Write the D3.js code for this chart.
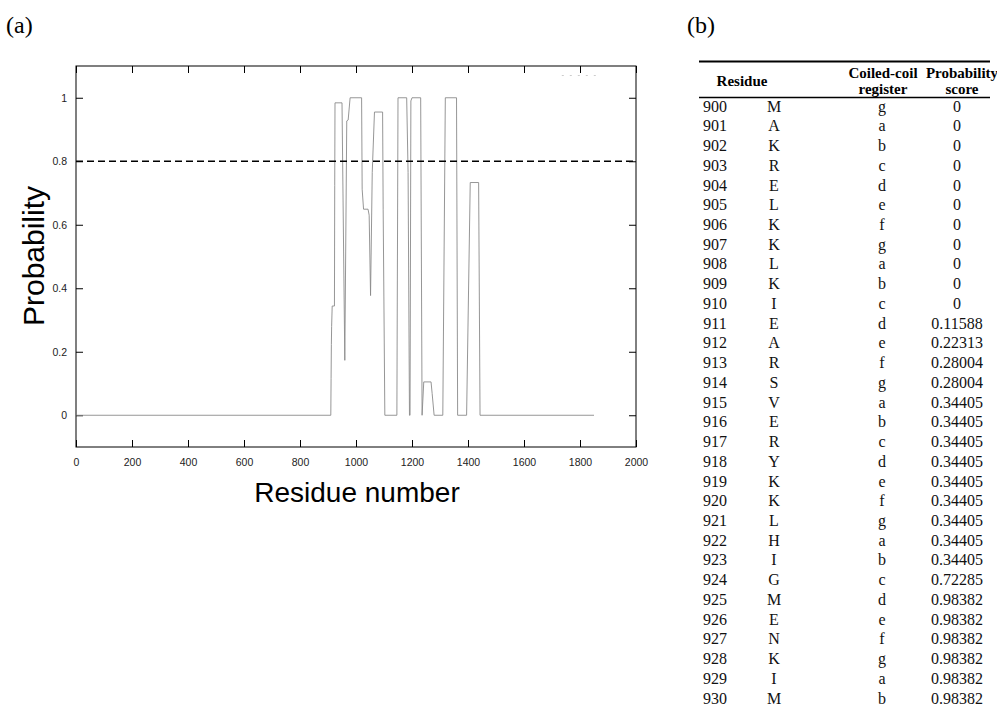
<!DOCTYPE html>
<meta charset="utf-8">
<script src="https://cdn.jsdelivr.net/npm/d3@7"></script>
<style>
body { margin: 0; background: #fff; }
.tick text { font: 10.5px "Liberation Sans", Arial, sans-serif; fill: #222; }
.tick line { stroke: #000; }
.axis-title { font-family: "Liberation Sans", Arial, sans-serif; fill: #000; }
.panel { font-family: "Liberation Serif", "Times New Roman", serif; font-size: 24px; }
.cell { font-family: "Liberation Serif", "Times New Roman", serif; font-size: 16px; fill: #111; }
.head { font-family: "Liberation Serif", "Times New Roman", serif; font-size: 15px; font-weight: bold; }
</style>
<body>
<svg id="fig" width="997" height="707"></svg>
<script>
// ---- panel (a): coiled-coil probability trace ----
var residues = [1, 910, 911, 912, 913, 915, 923, 924, 925, 950, 960, 967, 972, 979, 1020, 1022,
  1027, 1043, 1047, 1052, 1058, 1066, 1095, 1097, 1103, 1146, 1150, 1181, 1186, 1191, 1193,
  1196, 1200, 1231, 1236, 1242, 1268, 1272, 1279, 1310, 1319, 1359, 1363, 1395, 1408, 1438,
  1443, 1850];
var probs = [0, 0, 0.116, 0.223, 0.28, 0.344, 0.344, 0.723, 0.984, 0.984, 0.173, 0.927, 0.93, 1.0,
  1.0, 0.712, 0.649, 0.649, 0.63, 0.377, 0.765, 0.955, 0.955, 0.649, 0, 0, 1.0, 1.0, 0.765, 0,
  0, 0.99, 1.0, 1.0, 0, 0.105, 0.105, 0.068, 0, 0, 1.0, 1.0, 0, 0, 0.733, 0.733, 0, 0];
var threshold = 0.8;
var xTicks = [0, 200, 400, 600, 800, 1000, 1200, 1400, 1600, 1800, 2000];
var yTicks = [0, 0.2, 0.4, 0.6, 0.8, 1];
var legendStub = [1735, 1875];

// ---- panel (b): table ----
var resNum = [900, 901, 902, 903, 904, 905, 906, 907, 908, 909, 910, 911, 912, 913, 914, 915,
  916, 917, 918, 919, 920, 921, 922, 923, 924, 925, 926, 927, 928, 929, 930];
var aminoAcid = ["M", "A", "K", "R", "E", "L", "K", "K", "L", "K", "I", "E", "A", "R", "S", "V",
  "E", "R", "Y", "K", "K", "L", "H", "I", "G", "M", "E", "N", "K", "I", "M"];
var register = ["g", "a", "b", "c", "d", "e", "f", "g", "a", "b", "c", "d", "e", "f", "g", "a",
  "b", "c", "d", "e", "f", "g", "a", "b", "c", "d", "e", "f", "g", "a", "b"];
var score = ["0", "0", "0", "0", "0", "0", "0", "0", "0", "0", "0", "0.11588", "0.22313",
  "0.28004", "0.28004", "0.34405", "0.34405", "0.34405", "0.34405", "0.34405", "0.34405",
  "0.34405", "0.34405", "0.34405", "0.72285", "0.98382", "0.98382", "0.98382", "0.98382",
  "0.98382", "0.98382"];

var svg = d3.select("#fig");
svg.append("rect").attr("width", 997).attr("height", 707).attr("fill", "#fff");

var plot = {left: 76, right: 636, top: 66, bottom: 447};

var x = d3.scaleLinear().domain([0, 2000]).range([plot.left, plot.right]);
var y = d3.scaleLinear().domain([-0.1, 1.1]).range([plot.bottom, plot.top]);

svg.append("text").attr("class", "panel").attr("x", 6).attr("y", 33).text("(a)");
svg.append("text").attr("class", "panel").attr("x", 687).attr("y", 33).text("(b)");

// axes, ticks pointing inward and mirrored on all sides
svg.append("g")
    .attr("transform", "translate(0," + plot.bottom + ")")
    .call(d3.axisBottom(x).tickValues(xTicks).tickSize(-7).tickPadding(12).tickFormat(d => String(d)))
    .call(g => g.select(".domain").remove());
svg.append("g")
    .attr("transform", "translate(0," + plot.top + ")")
    .call(d3.axisTop(x).tickValues(xTicks).tickSize(-7).tickFormat(""))
    .call(g => g.select(".domain").remove());
svg.append("g")
    .attr("transform", "translate(" + plot.left + ",0)")
    .call(d3.axisLeft(y).tickValues(yTicks).tickSize(-7).tickPadding(9).tickFormat(d => String(d)))
    .call(g => g.select(".domain").remove());
svg.append("g")
    .attr("transform", "translate(" + plot.right + ",0)")
    .call(d3.axisRight(y).tickValues(yTicks).tickSize(-7).tickFormat(""))
    .call(g => g.select(".domain").remove());

svg.append("rect")
    .attr("x", plot.left).attr("y", plot.top)
    .attr("width", plot.right - plot.left).attr("height", plot.bottom - plot.top)
    .attr("fill", "none").attr("stroke", "#000").attr("stroke-width", 1);

var line = d3.line()
    .x((d, i) => x(residues[i]))
    .y(d => y(d));

svg.append("path")
    .datum(probs)
    .attr("fill", "none")
    .attr("stroke", "#8a8a8a")
    .attr("stroke-width", 0.9)
    .attr("d", line);

svg.append("line")
    .attr("x1", plot.left).attr("x2", plot.right)
    .attr("y1", y(threshold)).attr("y2", y(threshold))
    .attr("stroke", "#000").attr("stroke-width", 1.6)
    .attr("stroke-dasharray", "7,4");

svg.append("line")
    .attr("x1", x(legendStub[0])).attr("x2", x(legendStub[1]))
    .attr("y1", y(1.07)).attr("y2", y(1.07))
    .attr("stroke", "#ccc").attr("stroke-width", 1)
    .attr("stroke-dasharray", "2,6");

svg.append("text").attr("class", "axis-title")
    .attr("x", 357).attr("y", 502)
    .attr("font-size", 28)
    .attr("text-anchor", "middle").text("Residue number");
svg.append("text").attr("class", "axis-title")
    .attr("transform", "translate(44,256) rotate(-90)")
    .attr("font-size", 30)
    .attr("text-anchor", "middle").text("Probability");

// ---- table ----
var colX = [715, 774, 882, 957];
var row = d3.scaleLinear().domain([0, 30]).range([106, 698]);

svg.append("line").attr("x1", 699).attr("x2", 990).attr("y1", 61.5).attr("y2", 61.5)
    .attr("stroke", "#000").attr("stroke-width", 2);
svg.append("line").attr("x1", 699).attr("x2", 990).attr("y1", 97.5).attr("y2", 97.5)
    .attr("stroke", "#000").attr("stroke-width", 1.6);

var head = svg.append("g").attr("class", "head").attr("text-anchor", "middle");
head.append("text").attr("x", 742).attr("y", 86).text("Residue");
head.append("text").attr("x", 883).attr("y", 78).text("Coiled-coil");
head.append("text").attr("x", 883).attr("y", 94).text("register");
head.append("text").attr("x", 962).attr("y", 78).text("Probability");
head.append("text").attr("x", 962).attr("y", 94).text("score");

var rows = svg.append("g").attr("class", "cell").attr("text-anchor", "middle")
  .selectAll("g").data(resNum).join("g")
    .attr("transform", (d, i) => "translate(0," + row(i) + ")");
rows.append("text").attr("x", colX[0]).attr("dy", "0.35em").text(d => d);
rows.append("text").attr("x", colX[1]).attr("dy", "0.35em").text((d, i) => aminoAcid[i]);
rows.append("text").attr("x", colX[2]).attr("dy", "0.35em").text((d, i) => register[i]);
rows.append("text").attr("x", colX[3]).attr("dy", "0.35em").text((d, i) => score[i]);
</script>
</body>
